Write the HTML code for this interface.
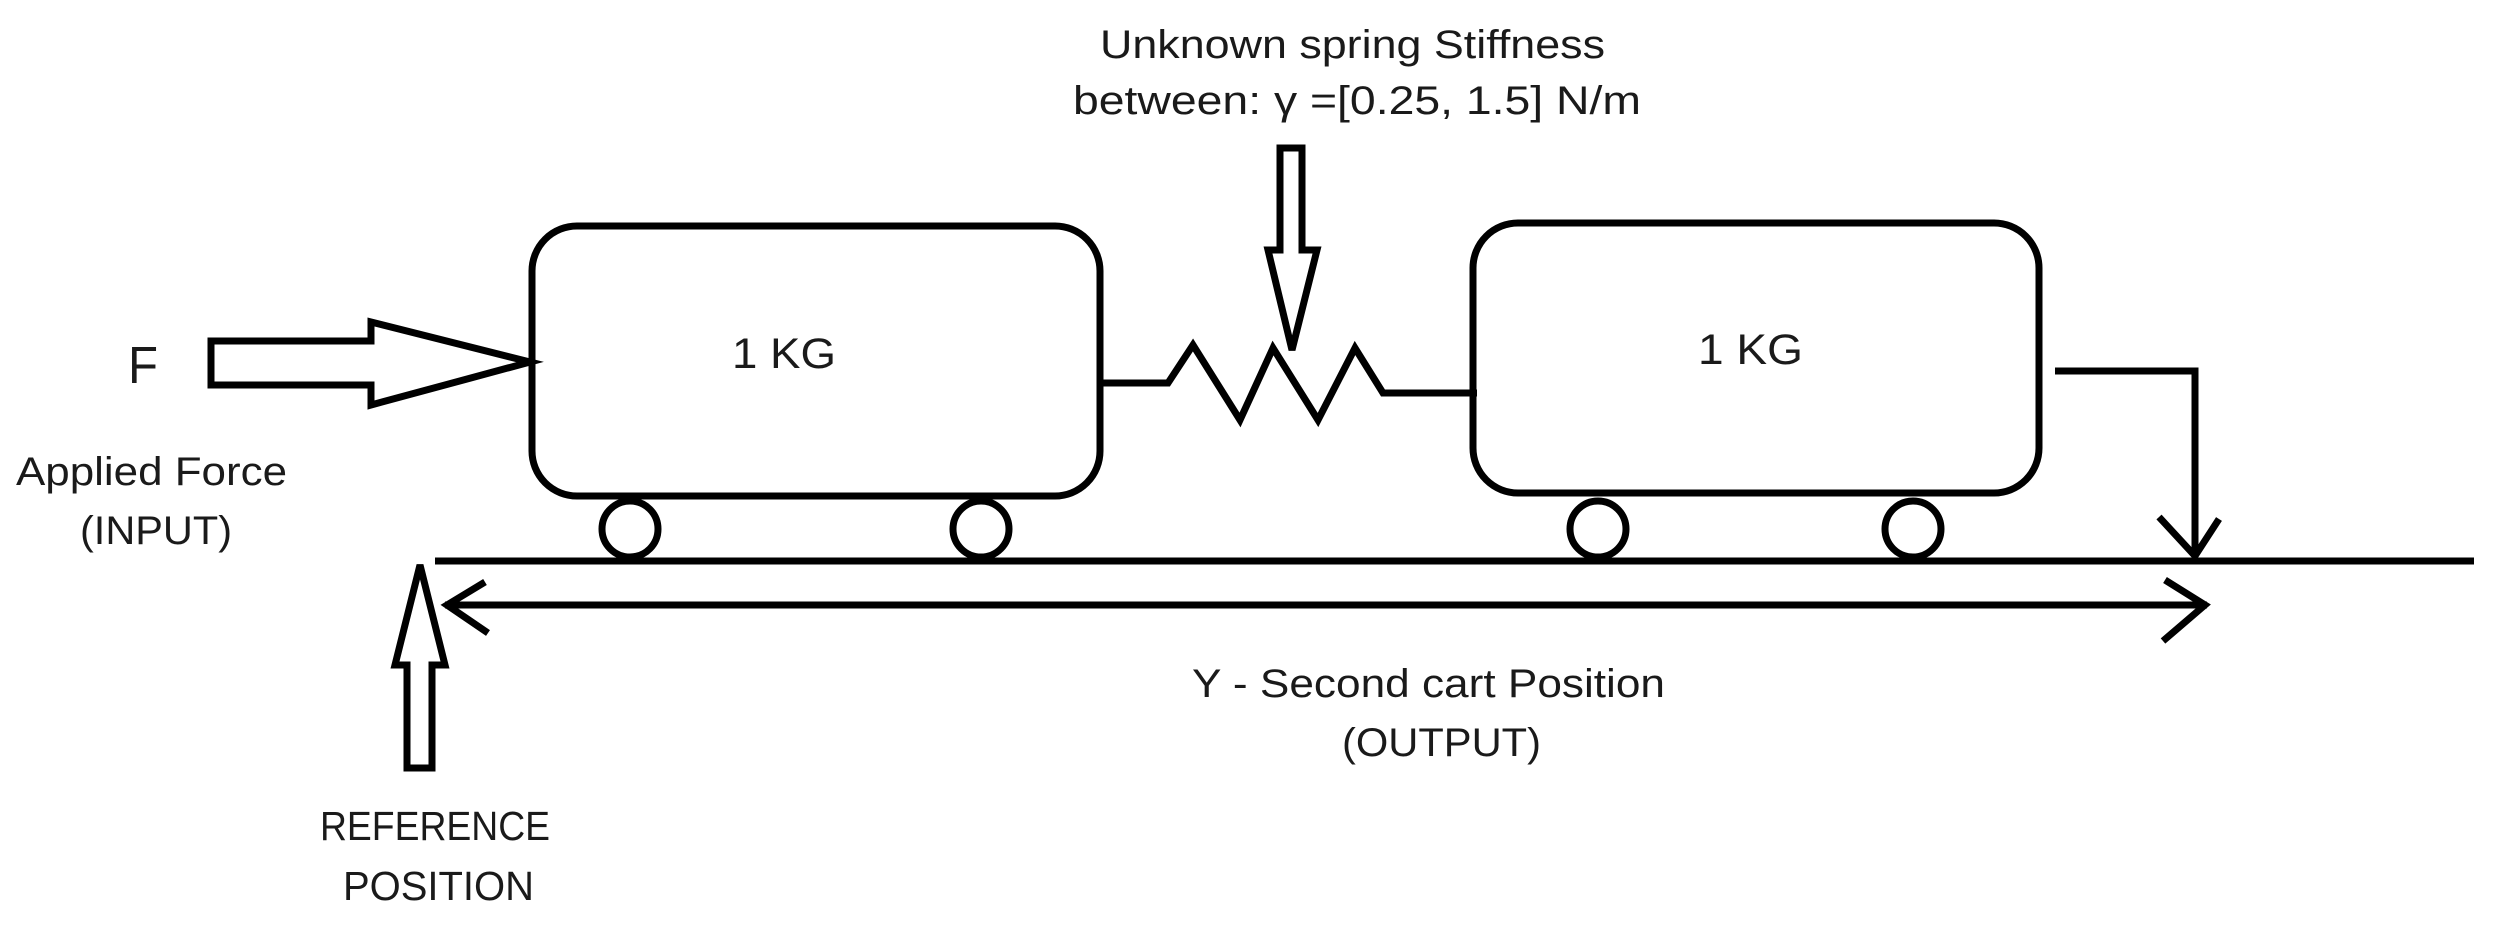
<!DOCTYPE html>
<html><head><meta charset="utf-8"><style>html,body{margin:0;padding:0;background:#fff}svg{display:block}</style></head>
<body>
<svg width="2501" height="926" viewBox="0 0 2501 926" xmlns="http://www.w3.org/2000/svg">
<g fill="none" stroke="#000" stroke-width="7" stroke-linejoin="miter">
  <rect x="532" y="226" width="568" height="270" rx="45" ry="45"/>
  <rect x="1473" y="223" width="566" height="270" rx="45" ry="45"/>
  <ellipse cx="630" cy="529" rx="28" ry="28"/>
  <ellipse cx="981" cy="529" rx="28" ry="28"/>
  <ellipse cx="1598" cy="529" rx="28" ry="28"/>
  <ellipse cx="1913" cy="529" rx="28" ry="28"/>
  <line x1="435" y1="561" x2="2474" y2="561"/>
  <line x1="445" y1="605" x2="2207" y2="605"/>
  <polyline points="485,582 447,605 488,633"/>
  <polyline points="2165,580 2205,605 2163,641"/>
  <polyline points="2055,371 2195,371 2195,556"/>
  <polyline points="2159,517 2195,556 2219,519"/>
  <polyline points="1100,383 1168,383 1193,345 1240,420 1273,348 1318,420 1355,348 1383,393 1477,393"/>
  <polygon points="211,341 371,341 371,322 530,362 371,405 371,385 211,385"/>
  <polygon points="1280,148 1302,148 1302,250 1317,250 1292,350 1268,250 1280,250"/>
  <polygon points="407,768 432,768 432,665 445,665 420,565 395,665 407,665"/>
</g>
<g font-family="'Liberation Sans', sans-serif" fill="#1a1a1a" text-anchor="start">
  <text x="1100" y="58" font-size="40" textLength="505" lengthAdjust="spacingAndGlyphs">Unknown spring Stiffness</text>
  <text x="1073" y="114" font-size="40" textLength="568" lengthAdjust="spacingAndGlyphs">between: γ =[0.25,  1.5] N/m</text>
  <text x="128" y="383" font-size="52" textLength="30" lengthAdjust="spacingAndGlyphs">F</text>
  <text x="16" y="485" font-size="40" textLength="271" lengthAdjust="spacingAndGlyphs">Applied Force</text>
  <text x="80" y="544" font-size="40" textLength="152" lengthAdjust="spacingAndGlyphs">(INPUT)</text>
  <text x="732" y="368" font-size="43" textLength="104" lengthAdjust="spacingAndGlyphs">1 KG</text>
  <text x="1698" y="364" font-size="43" textLength="105" lengthAdjust="spacingAndGlyphs">1 KG</text>
  <text x="1192" y="697" font-size="40" textLength="473" lengthAdjust="spacingAndGlyphs">Y - Second cart Position</text>
  <text x="1342" y="756" font-size="40" textLength="199" lengthAdjust="spacingAndGlyphs">(OUTPUT)</text>
  <text x="320" y="840" font-size="41" textLength="230" lengthAdjust="spacingAndGlyphs">REFERENCE</text>
  <text x="343" y="900" font-size="41" textLength="191" lengthAdjust="spacingAndGlyphs">POSITION</text>
</g>
</svg>
</body></html>
